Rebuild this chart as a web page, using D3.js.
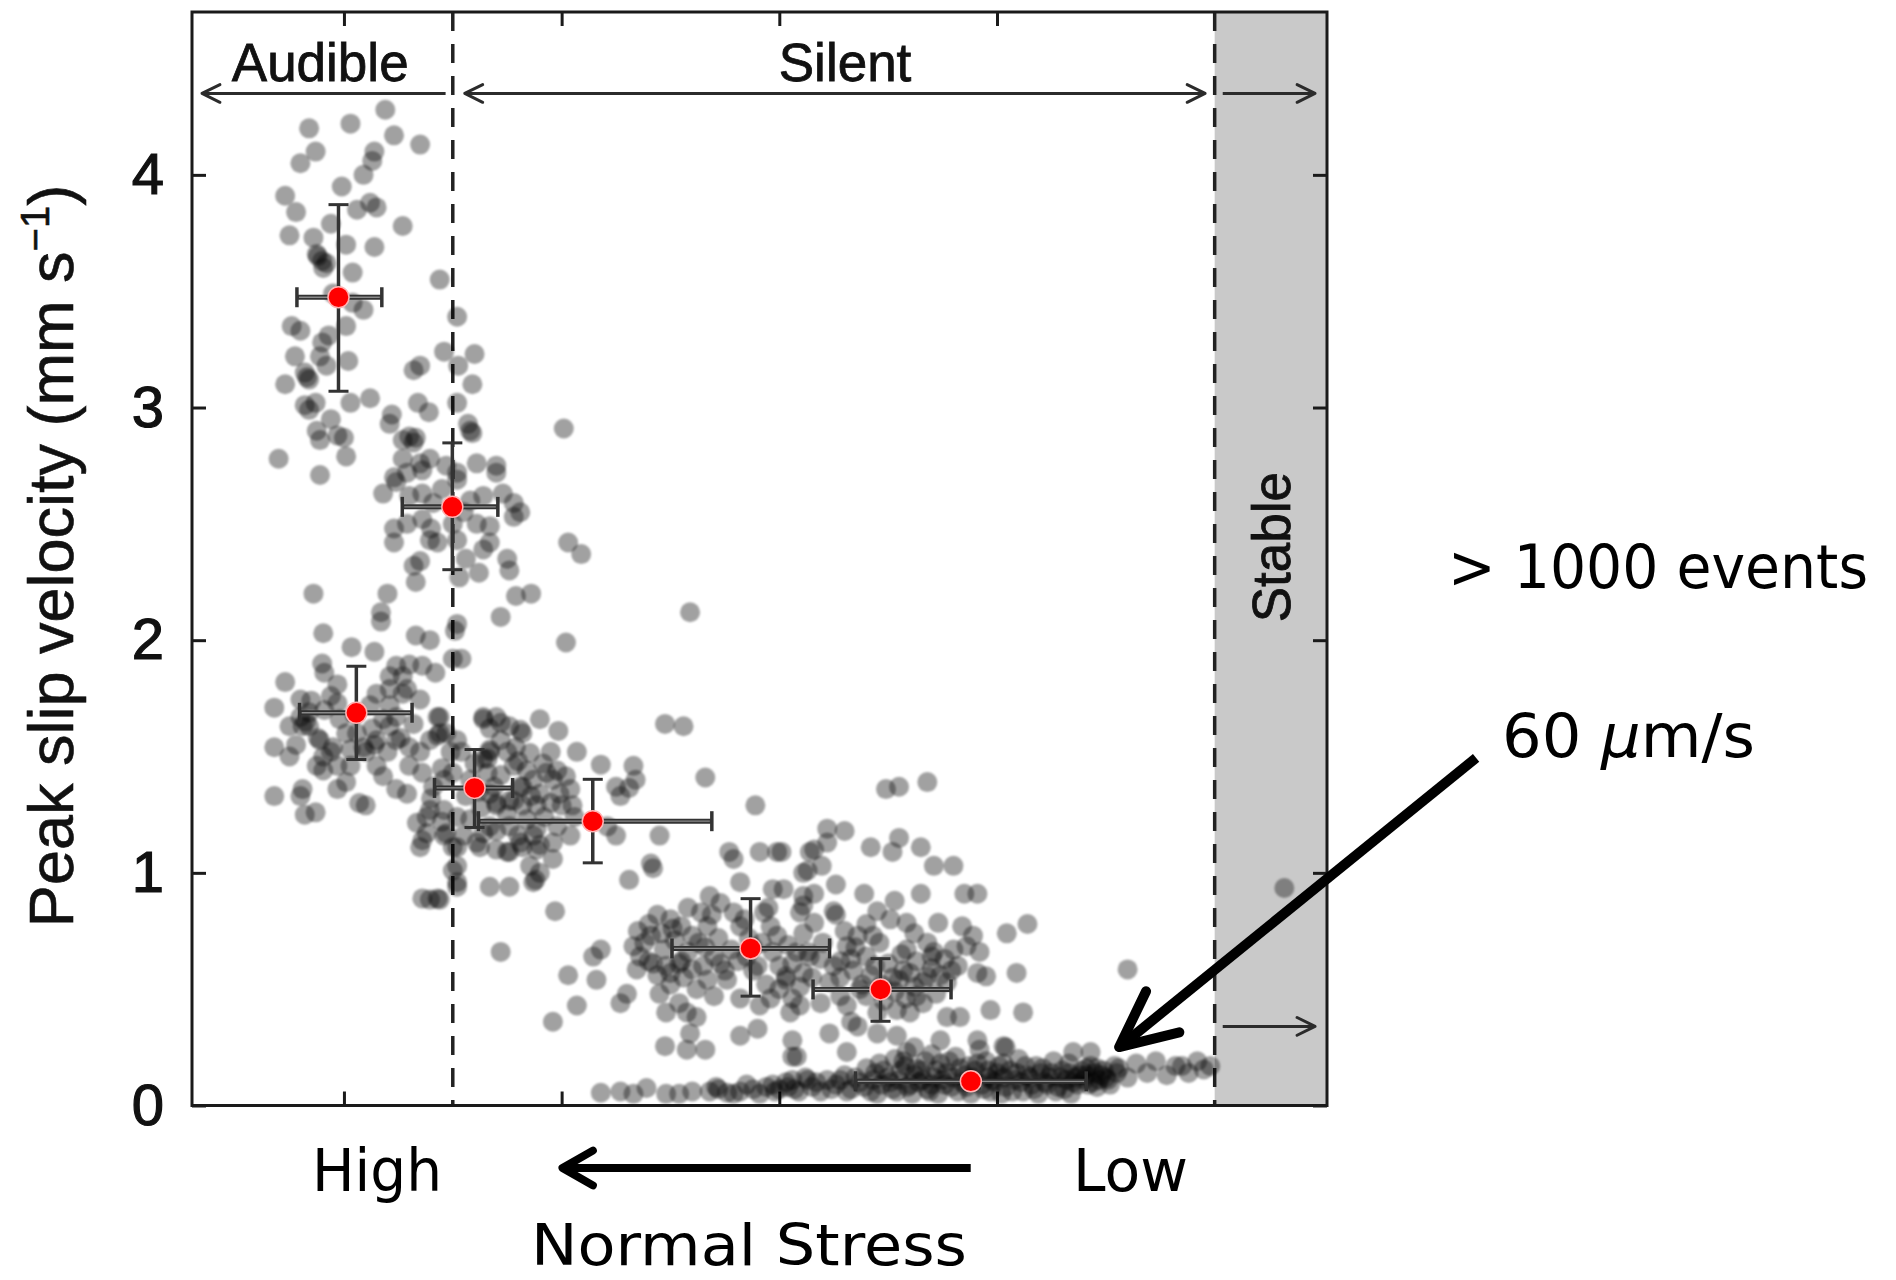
<!DOCTYPE html>
<html>
<head>
<meta charset="utf-8">
<script src="https://cdn.jsdelivr.net/npm/d3@7"></script>
<style>
  html, body { margin: 0; padding: 0; background: #fff; }
  svg { display: block; }
</style>
</head>
<body>
<svg id="chart" width="1896" height="1280"></svg>
<script>
// ---------------------------------------------------------------
// Peak slip velocity of individual slip events against normal stress
// (x is a relative normal-stress index: high stress on the left).
// Each event is [stressIndex, peakSlipVelocity (mm/s)].
// ---------------------------------------------------------------

const yTicks = [0, 1, 2, 3, 4];
const xTicks = [1, 2, 3, 4];
const yTickLabels = ["0", "1", "2", "3", "4"];

// regime boundaries on the stress index
const audibleSilentBoundary = 1.5;
const silentStableBoundary = 5.0;

const eventsAudibleUpper = [
  [1.19,4.28],[0.84,4.20],[1.03,4.22],[1.23,4.17],[1.35,4.13],[0.87,4.10],[0.80,4.05],[1.14,4.10],
  [1.13,4.06],[1.09,4.00],[0.99,3.95],[0.73,3.91],[0.78,3.84],[1.12,3.88],[1.15,3.86],[1.06,3.85],
  [0.94,3.79],[1.27,3.78],[0.75,3.74],[0.86,3.73],[1.01,3.70],[1.14,3.69],[0.875,3.66],[0.88,3.65],
  [0.90,3.63],[0.905,3.60],[0.92,3.62],[1.04,3.58],[1.44,3.55],[0.95,3.49],[1.09,3.42],[1.04,3.45],
  [0.76,3.35],[0.80,3.33],[1.01,3.35],[0.93,3.31],[0.90,3.28],[1.52,3.39],[1.46,3.24],[1.60,3.23],
  [0.775,3.22],[0.89,3.22],[0.92,3.18],[1.02,3.20],[1.525,3.18],[1.35,3.18],[1.32,3.16],[0.83,3.13],
  [0.82,3.15],[0.84,3.12],[0.73,3.10],[1.59,3.10],[1.03,3.02],[1.12,3.04],[1.34,3.02],[1.39,2.98],
  [1.52,3.02],[0.84,2.99],[0.82,3.01],[0.87,3.02],[0.94,2.95],[1.22,2.97],[1.21,2.93],[1.57,2.93],
  [1.58,2.90],[0.875,2.90],[0.89,2.86],[0.97,2.88],[1.00,2.87],[0.70,2.78],[1.01,2.79],[0.89,2.71]
];

const eventsAudibleMid = [
  [1.27,2.86],[1.33,2.87],[1.32,2.85],[1.30,2.875],[1.27,2.78],[1.35,2.76],[1.395,2.78],[1.23,2.70],
  [1.29,2.72],[1.36,2.73],[1.18,2.63],[1.24,2.68],[1.61,2.76],[1.70,2.75],[1.70,2.72],[1.52,2.72],
  [1.47,2.75],[1.36,2.63],[1.41,2.59],[1.64,2.62],[1.73,2.63],[1.78,2.59],[1.81,2.55],[1.23,2.48],
  [1.23,2.42],[1.29,2.50],[1.36,2.52],[1.395,2.43],[1.43,2.42],[1.35,2.34],[1.32,2.32],[1.33,2.25],
  [1.53,2.27],[1.62,2.29],[1.64,2.39],[1.67,2.42],[1.61,2.50],[1.67,2.49],[1.75,2.35],[1.76,2.30],
  [1.78,2.53],[1.79,2.19],[1.72,2.10],[2.01,2.91],[1.59,2.89],[1.52,2.69],[1.52,2.43],[1.56,2.35],
  [1.86,2.20],[2.03,2.42],[2.09,2.37],[2.59,2.12],[2.02,1.99],
  [1.30,2.62],[1.45,2.65],[1.55,2.55],[1.40,2.48],[1.50,2.50],[1.58,2.60]
];

const eventsAudibleLower = [
  [0.86,2.20],[1.20,2.20],[1.17,2.12],[1.17,2.08],[0.905,2.03],[1.33,2.02],[1.395,2.00],[1.52,2.07],
  [1.51,2.04],[1.50,1.92],[1.54,1.92],[1.035,1.97],[1.14,1.95],[0.90,1.90],[0.91,1.86],[0.73,1.82],
  [1.24,1.89],[1.30,1.895],[1.36,1.89],[1.42,1.86],[1.21,1.845],[1.27,1.845],[0.68,1.71],[0.80,1.745],
  [0.94,1.76],[0.97,1.73],[1.15,1.77],[1.21,1.79],[1.29,1.79],[1.35,1.745],[0.81,1.63],[0.84,1.63],
  [0.75,1.63],[0.825,1.65],[0.68,1.54],[0.75,1.50],[0.89,1.57],[0.95,1.54],[0.94,1.52],[1.21,1.63],
  [1.24,1.57],[1.30,1.54],[1.35,1.52],[1.15,1.57],[1.13,1.62],[1.43,1.67],[1.44,1.60],[0.875,1.46],
  [0.905,1.44],[1.03,1.46],[1.01,1.39],[0.97,1.36],[1.18,1.415],[1.24,1.36],[1.29,1.34],[0.81,1.36],
  [0.80,1.33],[0.68,1.33],[1.07,1.30],[1.10,1.29],[0.82,1.25],[0.87,1.26],[0.80,1.67],[0.84,1.69],
  [0.97,1.81],[1.01,1.60],[1.09,1.54],[1.06,1.60],[1.21,1.72],[1.27,1.77],[1.24,1.67],[0.97,1.46],
  [0.905,1.50],[1.10,1.52],[1.15,1.46],[1.20,1.52],[1.30,1.46],[1.36,1.43],
  [0.85,1.74],[0.91,1.70],[0.98,1.66],[1.05,1.68],[1.12,1.72],[1.18,1.66],[0.88,1.58],[1.03,1.53],
  [1.14,1.55],[0.78,1.55],[1.26,1.58],[1.32,1.64]
];

const eventsSilentUpper = [
  [1.43,1.59],[1.47,1.60],[1.64,1.66],[1.67,1.62],[1.70,1.67],[1.76,1.63],[1.82,1.60],[1.67,1.52],
  [1.64,1.49],[1.75,1.52],[1.49,1.52],[1.50,1.43],[1.46,1.40],[1.41,1.37],[1.67,1.34],[1.70,1.29],
  [1.78,1.31],[1.82,1.37],[1.38,1.24],[1.335,1.215],[1.46,1.27],[1.52,1.24],[1.58,1.23],[1.64,1.17],
  [1.55,1.16],[1.46,1.16],[1.35,1.11],[1.36,1.14],[1.52,1.11],[1.61,1.13],[1.70,1.10],[1.76,1.09],
  [1.82,1.11],[1.52,1.03],[1.52,0.94],[1.67,0.94],[1.76,0.94],[1.36,0.89],[1.43,0.89],
  [1.44,1.67],[1.64,1.67],[1.72,1.645],[1.90,1.66],[1.985,1.61],[1.81,1.615],[1.395,1.57],[1.52,1.57],
  [1.67,1.53],[1.66,1.49],[1.79,1.54],[1.855,1.515],[1.95,1.52],[2.07,1.52],[2.18,1.465],[2.33,1.46],
  [2.34,1.40],[2.31,1.365],[1.78,1.46],[1.84,1.44],[1.915,1.47],[1.98,1.44],[2.02,1.415],[1.96,1.40],
  [1.87,1.40],[1.81,1.37],[1.90,1.34],[1.99,1.34],[2.04,1.36],[1.95,1.30],[1.885,1.29],[1.82,1.29],
  [1.76,1.31],[1.70,1.30],[1.69,1.37],[1.66,1.43],[2.05,1.29],[2.25,1.37],[2.27,1.33],[1.395,1.27],
  [1.38,1.17],[1.47,1.17],[1.50,1.11],[1.625,1.11],[1.67,1.20],[1.76,1.20],[1.885,1.19],[1.87,1.16],
  [1.81,1.13],[1.75,1.09],[1.885,1.10],[1.96,1.13],[2.04,1.16],[2.21,1.20],[2.25,1.16],[1.96,1.06],
  [1.855,1.03],[1.90,1.00],[1.87,0.96],[1.88,0.97],[1.50,1.01],[1.52,0.96],[1.395,0.885],[1.44,0.885],
  [1.97,0.835],[1.72,0.66],[2.45,1.16],[2.41,1.04],[2.42,1.02],[2.31,0.97],[2.475,1.64],[2.56,1.63],
  [2.66,1.41],
  [1.58,1.40],[1.62,1.35],[1.72,1.42],[1.80,1.48],[1.86,1.33],[1.93,1.43],[2.00,1.29],[1.92,1.24],
  [1.84,1.23],[1.75,1.25],[1.63,1.28],[1.56,1.33],[1.98,1.20],[2.06,1.24],[1.90,1.12],[1.80,1.16],
  [1.70,1.18],[1.60,1.47],[1.54,1.52],[1.72,1.57],[1.45,1.45],[1.40,1.32],[1.45,1.22]
];

const eventsSilentLower = [
  [2.89,1.29],[2.77,1.09],[2.79,1.06],[2.91,1.09],[2.99,1.09],[3.14,1.09],[2.82,0.96],[2.97,0.93],
  [3.13,1.01],[2.68,0.90],[2.73,0.87],[2.64,0.83],[2.50,0.80],[2.51,0.76],[2.41,0.73],[2.67,0.77],
  [2.79,0.83],[2.82,0.77],[2.93,0.83],[2.96,0.77],[3.11,0.90],[3.095,0.83],[3.16,0.785],[2.18,0.67],
  [2.145,0.64],[2.33,0.685],[2.36,0.64],[2.42,0.61],[2.345,0.585],[2.54,0.61],[2.60,0.585],[2.70,0.64],
  [2.73,0.61],[2.67,0.54],[2.76,0.54],[2.97,0.66],[3.00,0.60],[3.06,0.61],[3.13,0.66],[3.11,0.57],
  [3.03,0.54],[2.03,0.56],[2.16,0.54],[2.30,0.48],[2.27,0.44],[2.07,0.43],[1.96,0.36],[2.45,0.48],
  [2.54,0.44],[2.575,0.40],[2.62,0.38],[2.59,0.31],[2.48,0.40],[2.82,0.46],[2.91,0.43],[2.96,0.46],
  [3.05,0.40],[3.095,0.43],[2.90,0.33],[2.82,0.30],[2.475,0.255],[2.575,0.24],[2.66,0.24],[3.06,0.28],
  [3.06,0.21],
  [3.49,1.36],[3.55,1.37],[3.68,1.39],[3.22,1.19],[3.30,1.18],[3.55,1.15],[3.42,1.11],[3.52,1.09],
  [3.65,1.11],[3.71,1.03],[3.80,1.03],[3.16,1.10],[3.01,1.09],[3.22,1.13],[3.11,1.00],[3.195,1.03],
  [3.26,0.95],[3.39,0.91],[3.53,0.88],[3.65,0.91],[3.85,0.91],[3.91,0.91],[3.02,0.93],[3.11,0.86],
  [3.16,0.91],[3.25,0.835],[3.26,0.82],[3.45,0.835],[3.51,0.80],[3.585,0.785],[3.73,0.785],[3.84,0.77],
  [3.89,0.73],[4.045,0.74],[4.14,0.78],[3.11,0.74],[3.08,0.66],[3.19,0.63],[3.31,0.685],[3.36,0.73],
  [3.585,0.67],[3.71,0.66],[3.80,0.67],[3.86,0.685],[3.92,0.66],[3.91,0.57],[3.95,0.555],[4.09,0.57],
  [4.60,0.585],[3.03,0.555],[3.095,0.51],[3.23,0.53],[3.28,0.47],[3.37,0.50],[3.55,0.54],[3.62,0.51],
  [3.68,0.555],[3.77,0.53],[3.06,0.46],[3.19,0.44],[3.31,0.43],[3.36,0.34],[3.33,0.36],[3.45,0.40],
  [3.54,0.41],[3.60,0.40],[3.77,0.38],[3.83,0.38],[3.97,0.41],[4.12,0.40],[3.23,0.31],[3.45,0.31],
  [3.54,0.30],[3.74,0.28],[3.91,0.28],[3.08,0.21],[3.31,0.23],[3.585,0.23],[4.03,0.255],
  [2.38,0.70],[2.47,0.67],[2.52,0.71],[2.58,0.66],[2.63,0.70],[2.44,0.56],[2.50,0.52],[2.56,0.55],
  [2.62,0.50],[2.70,0.47],[2.40,0.62],[2.48,0.60],[2.86,0.72],[2.92,0.70],[2.99,0.73],[3.04,0.69],
  [2.88,0.58],[2.94,0.52],[3.00,0.50],[2.85,0.64],[3.14,0.64],[3.20,0.70],[3.28,0.62],[3.34,0.58],
  [3.40,0.64],[3.46,0.70],[3.42,0.56],[3.50,0.61],[3.57,0.58],[3.63,0.62],[3.70,0.59],[3.76,0.63],
  [3.82,0.60],[3.40,0.47],[3.47,0.52],[3.58,0.46],[3.66,0.44],[3.72,0.48],[3.30,0.75],[3.40,0.78],
  [3.62,0.74],[3.68,0.70],
  [3.28,0.55],[3.33,0.63],[3.38,0.52],[3.44,0.60],[3.52,0.55],[3.56,0.65],[3.60,0.57],[3.66,0.53],
  [3.70,0.64],[3.74,0.56],[3.48,0.45],[3.53,0.49],[3.63,0.47],[3.79,0.58],[3.35,0.68],[3.25,0.60],
  [3.15,0.55],[3.43,0.73],
  [2.40,0.78],[2.46,0.74],[2.55,0.77],[2.60,0.73],[2.66,0.68],[2.72,0.72],[2.78,0.67],[2.84,0.80],
  [2.88,0.68],[2.55,0.62],[2.65,0.60],[2.75,0.58],[2.81,0.62],[2.90,0.60],[2.50,0.57],[2.35,0.75],
  [2.44,0.82],[2.58,0.85],[2.69,0.82],[2.95,0.85]
];

const eventsCreep = [
  [2.18,0.055],[2.27,0.06],[2.33,0.05],[2.39,0.075],[2.48,0.05],[2.54,0.05],[2.60,0.06],[2.68,0.06],
  [2.72,0.07],[2.76,0.055],[2.82,0.06],[2.88,0.07],[2.94,0.08],[3.00,0.07],[3.06,0.11],[3.13,0.11],
  [2.71,0.08],[2.79,0.05],[2.85,0.09],[2.91,0.05],[2.97,0.09],
  [3.03,0.10],[3.07,0.07],[3.12,0.12],[3.15,0.08],[3.19,0.06],[3.22,0.11],[3.26,0.09],[3.30,0.13],
  [3.33,0.07],[3.37,0.10],[3.40,0.16],[3.42,0.06],
  [3.46,0.18],[3.53,0.20],[3.58,0.17],[3.67,0.19],[3.74,0.18],[3.81,0.21],[3.87,0.17],[3.95,0.19],
  [4.03,0.18],[4.10,0.20],[4.18,0.17],[4.26,0.19],[4.33,0.18],[4.41,0.16],
  [3.44,0.14],[3.50,0.12],[3.56,0.15],[3.62,0.13],[3.65,0.15],[3.71,0.12],[3.77,0.14],[3.85,0.13],
  [3.90,0.15],[3.96,0.12],[4.00,0.14],[4.06,0.15],[4.14,0.13],[4.20,0.14],[4.24,0.12],[4.30,0.15],
  [4.38,0.13],[4.45,0.14],[4.50,0.12],[4.55,0.14],
  [3.47,0.09],[3.51,0.10],[3.59,0.08],[3.64,0.10],[3.70,0.09],[3.75,0.11],[3.79,0.08],[3.84,0.10],
  [3.93,0.09],[3.99,0.10],[4.04,0.08],[4.08,0.11],[4.16,0.09],[4.22,0.10],[4.28,0.08],[4.35,0.10],
  [4.42,0.09],[4.47,0.11],[4.52,0.09],
  [3.45,0.05],[3.54,0.06],[3.61,0.05],[3.68,0.07],[3.73,0.05],[3.82,0.06],[3.88,0.05],[3.97,0.06],
  [4.02,0.05],[4.12,0.06],[4.19,0.05],[4.27,0.06],[4.34,0.05],
  [4.36,0.12],[4.40,0.11],[4.44,0.10],[4.48,0.13],[4.39,0.15],[4.46,0.16],[4.32,0.11],
  [4.04,0.25],[4.35,0.23],[4.43,0.23],[3.92,0.24],[3.70,0.22],[3.62,0.25],
  [4.56,0.16],[4.60,0.12],[4.64,0.18],[4.69,0.14],[4.73,0.19],[4.78,0.13],[4.82,0.17],[4.85,0.17],
  [4.88,0.14],[4.92,0.19],[4.95,0.155],[4.98,0.17],
  [3.35,0.12],[3.39,0.08],[3.43,0.11],[3.48,0.15],[3.52,0.07],[3.55,0.11],[3.57,0.19],[3.60,0.09],
  [3.63,0.16],[3.66,0.11],[3.69,0.06],[3.72,0.15],[3.76,0.09],[3.78,0.19],[3.80,0.12],[3.83,0.16],
  [3.86,0.08],[3.89,0.12],[3.91,0.18],[3.94,0.07],[3.96,0.15],[3.98,0.11],[4.01,0.17],[4.03,0.12],
  [4.07,0.06],[4.09,0.14],[4.11,0.10],[4.13,0.17],[4.15,0.12],[4.17,0.07],[4.21,0.16],[4.23,0.09],
  [4.25,0.14],[4.29,0.12],[4.31,0.07],[4.33,0.14],[4.37,0.09],[4.41,0.13],[4.43,0.17],[4.46,0.08],
  [4.49,0.15],[4.51,0.11],[4.54,0.17],
  [2.98,0.06],[3.04,0.08],[3.09,0.06],[3.17,0.10],[3.24,0.07],[3.28,0.11],[3.31,0.06]
];

const eventsStable = [[5.32, 0.935]];

// binned means with spread (cross-shaped error bars)
const meanX  = [0.975, 1.498, 1.057, 1.600, 2.143, 2.868, 3.465, 3.880];
const meanY  = [3.474, 2.573, 1.688, 1.365, 1.222, 0.675, 0.499, 0.104];
const xLow   = [0.784, 1.268, 0.796, 1.416, 1.618, 2.507, 3.155, 3.350];
const xHigh  = [1.174, 1.707, 1.313, 1.775, 2.690, 3.231, 3.789, 4.410];
const yLow   = [3.070, 2.303, 1.487, 1.195, 1.043, 0.470, 0.362, 0.075];
const yHigh  = [3.872, 2.848, 1.888, 1.530, 1.402, 0.889, 0.631, 0.135];

// regime arrows along the top, [from, to] on the stress index
const regimeArrowY = 4.35;
const regimeArrows = [
  { from: 1.467, to: 0.348, heads: ["end"] },
  { from: 1.555, to: 4.956, heads: ["start", "end"] },
  { from: 5.037, to: 5.461, heads: ["end"] }
];
const stableLowArrow = { from: 5.037, to: 5.461, y: 0.34 };
const regimeLabels = [
  { text: "Audible", x: 0.891 },
  { text: "Silent", x: 3.302 }
];

// ---------------------------------------------------------------
const svg = d3.select("#chart");
const frame = { left: 192, right: 1327, top: 12, bottom: 1105.5 };

const x = d3.scaleLinear().domain([0.302, 5.516]).range([frame.left, frame.right]);
const y = d3.scaleLinear().domain([0, 4.7]).range([frame.bottom, frame.top]);

const axisFont = "'Liberation Sans', Arial, Helvetica, sans-serif";
const noteFont = "'DejaVu Sans', 'Comic Sans MS', sans-serif";
const ink = "#1a1a1a";

const defs = svg.append("defs");
defs.append("filter").attr("id", "soft").attr("x", "-20%").attr("y", "-20%")
  .attr("width", "140%").attr("height", "140%")
  .append("feGaussianBlur").attr("stdDeviation", 1.0);

// stable regime shading
svg.append("rect")
  .attr("x", x(silentStableBoundary)).attr("y", frame.top)
  .attr("width", frame.right - x(silentStableBoundary))
  .attr("height", frame.bottom - frame.top)
  .attr("fill", "#c9c9c9");

// regime boundaries
[audibleSilentBoundary, silentStableBoundary].forEach(b => {
  svg.append("line")
    .attr("x1", x(b)).attr("x2", x(b))
    .attr("y1", frame.top).attr("y2", frame.bottom)
    .attr("stroke", "#222").attr("stroke-width", 3.5)
    .attr("stroke-dasharray", "19,13");
});

// axes: ticks point inward on all four sides
const tickLen = 14;
const gLeft = svg.append("g").attr("transform", `translate(${frame.left},0)`)
  .call(d3.axisLeft(y).tickValues(yTicks).tickSize(-tickLen).tickPadding(28)
    .tickFormat((d, i) => yTickLabels[i]));
const gRight = svg.append("g").attr("transform", `translate(${frame.right},0)`)
  .call(d3.axisLeft(y).tickValues(yTicks).tickSize(tickLen).tickFormat(""));
const gTop = svg.append("g").attr("transform", `translate(0,${frame.top})`)
  .call(d3.axisBottom(x).tickValues(xTicks).tickSize(tickLen).tickFormat(""));
const gBottom = svg.append("g").attr("transform", `translate(0,${frame.bottom})`)
  .call(d3.axisTop(x).tickValues(xTicks).tickSize(tickLen).tickFormat(""));

[gLeft, gRight, gTop, gBottom].forEach(g => {
  g.select(".domain").remove();
  g.selectAll(".tick line").attr("stroke", ink).attr("stroke-width", 3);
});
gLeft.selectAll(".tick text")
  .attr("font-family", axisFont).attr("font-size", 58).attr("fill", "#111")
  .attr("stroke", "#111").attr("stroke-width", 1.2);

// y-axis title
const yTitle = svg.append("text")
  .attr("transform", `translate(73,556) rotate(-90)`)
  .attr("text-anchor", "middle")
  .attr("font-family", axisFont).attr("font-size", 63).attr("fill", "#111")
  .attr("stroke", "#111").attr("stroke-width", 0.6);
yTitle.append("tspan").text("Peak slip velocity (mm s");
yTitle.append("tspan").attr("dy", -24).attr("font-size", 40).text("\u22121");
yTitle.append("tspan").attr("dy", 24).text(")");

// event clouds
const allEvents = [].concat(eventsAudibleUpper, eventsAudibleMid, eventsAudibleLower,
  eventsSilentUpper, eventsSilentLower, eventsCreep, eventsStable);
svg.append("g").attr("filter", "url(#soft)")
  .selectAll("circle").data(allEvents).join("circle")
  .attr("cx", d => x(d[0])).attr("cy", d => y(d[1]))
  .attr("r", 10)
  .attr("fill", "#000").attr("fill-opacity", 0.37);

// error bars
const means = meanX.map((mx, i) => ({ x: mx, y: meanY[i], x0: xLow[i], x1: xHigh[i], y0: yLow[i], y1: yHigh[i] }));
const capHalf = 10;
const bars = svg.append("g");
means.forEach(m => {
  bars.append("line").attr("x1", x(m.x0)).attr("x2", x(m.x1)).attr("y1", y(m.y)).attr("y2", y(m.y))
    .attr("stroke", "#333").attr("stroke-width", 5);
  bars.append("line").attr("x1", x(m.x0) + 2).attr("x2", x(m.x1) - 2).attr("y1", y(m.y)).attr("y2", y(m.y))
    .attr("stroke", "#8a8a8a").attr("stroke-width", 1.3);
  [m.x0, m.x1].forEach(v => bars.append("line")
    .attr("x1", x(v)).attr("x2", x(v)).attr("y1", y(m.y) - capHalf).attr("y2", y(m.y) + capHalf)
    .attr("stroke", "#333").attr("stroke-width", 3.5));
  bars.append("line").attr("x1", x(m.x)).attr("x2", x(m.x)).attr("y1", y(m.y0)).attr("y2", y(m.y1))
    .attr("stroke", "#333").attr("stroke-width", 3.5);
  [m.y0, m.y1].forEach(v => bars.append("line")
    .attr("x1", x(m.x) - capHalf).attr("x2", x(m.x) + capHalf).attr("y1", y(v)).attr("y2", y(v))
    .attr("stroke", "#333").attr("stroke-width", 3));
});
svg.append("g").selectAll("circle").data(means).join("circle")
  .attr("cx", d => x(d.x)).attr("cy", d => y(d.y)).attr("r", 10.5)
  .attr("fill", "#ff0000").attr("stroke", "#ffb3b3").attr("stroke-width", 1.5);

// plot frame
svg.append("rect")
  .attr("x", frame.left).attr("y", frame.top)
  .attr("width", frame.right - frame.left).attr("height", frame.bottom - frame.top)
  .attr("fill", "none").attr("stroke", ink).attr("stroke-width", 3);

// open chevron arrow heads
function chevron(g, tipX, tipY, dirX, dirY, len, spread, width, color) {
  const ang = Math.atan2(dirY, dirX);
  const pts = [-spread, spread].map(s => [tipX - len * Math.cos(ang + s), tipY - len * Math.sin(ang + s)]);
  g.append("path")
    .attr("d", `M${pts[0][0]},${pts[0][1]}L${tipX},${tipY}L${pts[1][0]},${pts[1][1]}`)
    .attr("fill", "none").attr("stroke", color).attr("stroke-width", width)
    .attr("stroke-linejoin", "round").attr("stroke-linecap", "round");
}

const arrowsG = svg.append("g");
function regimeArrow(a, yv) {
  const y0 = y(yv);
  const xa = x(a.from), xb = x(a.to);
  arrowsG.append("line").attr("x1", xa).attr("x2", xb).attr("y1", y0).attr("y2", y0)
    .attr("stroke", "#2b2b2b").attr("stroke-width", 3);
  const dir = Math.sign(xb - xa);
  if (a.heads.includes("end")) chevron(arrowsG, xb, y0, dir, 0, 20, 0.46, 3, "#2b2b2b");
  if (a.heads.includes("start")) chevron(arrowsG, xa, y0, -dir, 0, 20, 0.46, 3, "#2b2b2b");
}
regimeArrows.forEach(a => regimeArrow(a, regimeArrowY));
regimeArrow({ from: stableLowArrow.from, to: stableLowArrow.to, heads: ["end"] }, stableLowArrow.y);

// regime labels
regimeLabels.forEach(l => {
  svg.append("text")
    .attr("x", x(l.x)).attr("y", y(regimeArrowY) - 12)
    .attr("text-anchor", "middle")
    .attr("font-family", axisFont).attr("font-size", 53).attr("fill", "#111")
    .attr("stroke", "#111").attr("stroke-width", 0.8)
    .text(l.text);
});
svg.append("text")
  .attr("transform", `translate(${x(5.26) + 19},${y(2.40)}) rotate(-90)`)
  .attr("text-anchor", "middle")
  .attr("font-family", axisFont).attr("font-size", 53).attr("fill", "#111")
  .attr("stroke", "#111").attr("stroke-width", 0.8)
  .text("Stable");

// hand annotations below and beside the plot
const notes = svg.append("g").attr("font-family", noteFont).attr("fill", "#000");
notes.append("text").attr("x", 312).attr("y", 1191).attr("font-size", 58)
  .attr("textLength", 130).attr("lengthAdjust", "spacingAndGlyphs").text("High");
notes.append("text").attr("x", 1073).attr("y", 1191).attr("font-size", 58)
  .attr("textLength", 115).attr("lengthAdjust", "spacingAndGlyphs").text("Low");
notes.append("text").attr("x", 531).attr("y", 1265).attr("font-size", 57)
  .attr("textLength", 436).attr("lengthAdjust", "spacingAndGlyphs").text("Normal Stress");
notes.append("text").attr("x", 1448).attr("y", 588).attr("font-size", 60)
  .attr("textLength", 420).attr("lengthAdjust", "spacingAndGlyphs").text("> 1000 events");
const sixty = notes.append("text").attr("x", 1502).attr("y", 757).attr("font-size", 60)
  .attr("textLength", 253).attr("lengthAdjust", "spacingAndGlyphs");
sixty.append("tspan").text("60 ");
sixty.append("tspan").attr("font-style", "italic").text("\u03bc");
sixty.append("tspan").text("m/s");

// normal-stress direction arrow
const stressArrow = { x0: 970.7, x1: 562.5, y: 1168 };
notes.append("line").attr("x1", stressArrow.x0).attr("x2", stressArrow.x1 + 3)
  .attr("y1", stressArrow.y).attr("y2", stressArrow.y)
  .attr("stroke", "#000").attr("stroke-width", 8);
chevron(notes, stressArrow.x1, stressArrow.y, -1, 0, 35, 0.52, 8, "#000");

// pointer to the creep band (tip in data space)
const pointerTip = { x: 4.561, y: 0.251 };
const pointerTail = { x: 6.201, y: 1.494 };
const tx = x(pointerTip.x), ty = y(pointerTip.y), sx = x(pointerTail.x), sy = y(pointerTail.y);
notes.append("line").attr("x1", sx).attr("y1", sy).attr("x2", tx + 4).attr("y2", ty - 3)
  .attr("stroke", "#000").attr("stroke-width", 10);
chevron(notes, tx, ty, tx - sx, ty - sy, 62, 0.44, 10, "#000");
</script>
</body>
</html>
